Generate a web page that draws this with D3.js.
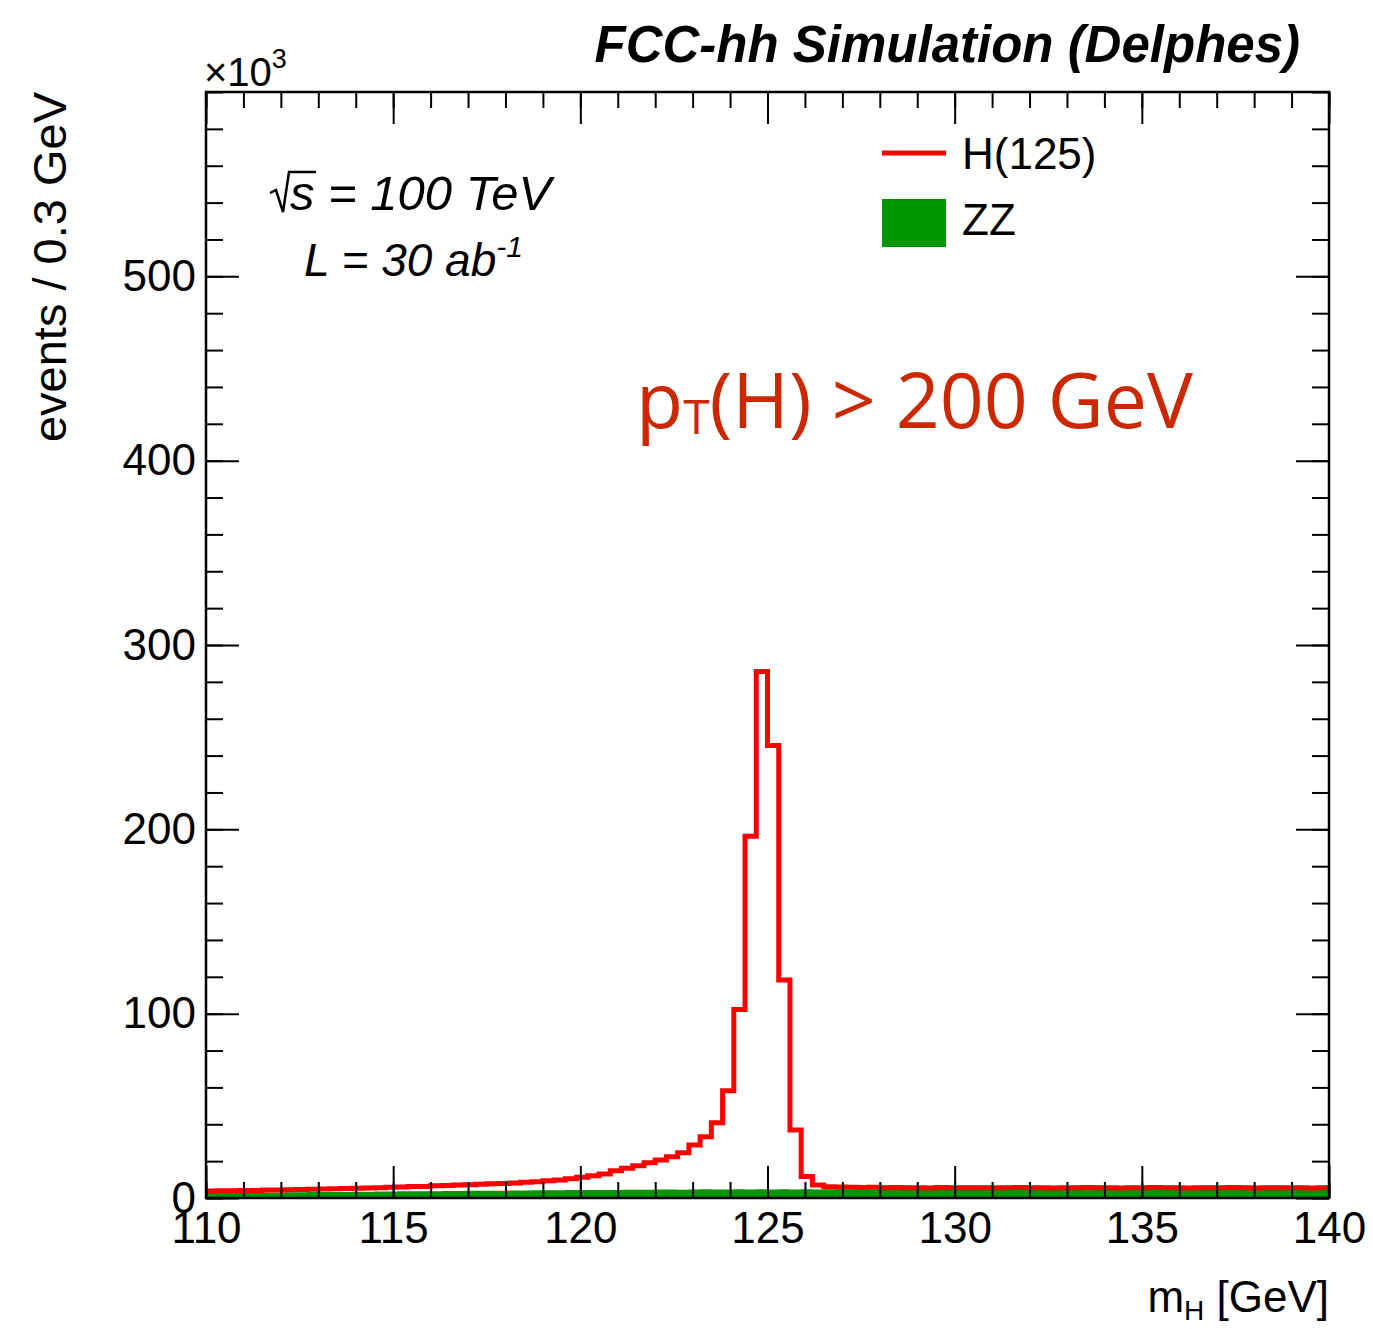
<!DOCTYPE html>
<html><head><meta charset="utf-8">
<script src="https://cdn.jsdelivr.net/npm/d3@7"></script>
<style>
body{margin:0;background:#fff;}
text{font-family:"Liberation Sans",Arial,Helvetica,sans-serif;}
</style></head>
<body><svg id="c" width="1373" height="1329"></svg>
<script>
// ---- data (values in units of 10^3 events / 0.3 GeV) ----
const binLow = 110, binWidth = 0.3, nBins = 100;
const higgs = [
 3.8,3.9,3.9,4.1,4.1,4.3,4.3,4.5,4.6,4.7,
 4.9,5.0,5.1,5.3,5.4,5.6,5.8,6.0,6.2,6.3,
 6.6,6.8,7.0,7.2,7.4,7.7,7.9,8.2,8.5,8.8,
 9.3,9.8,10.4,11.2,12.1,13.0,14.8,16.1,17.5,19.1,
 20.6,22.4,24.6,28.7,33.2,40.8,58.2,102.3,196.2,285.6,
 245.5,118.2,36.9,11.7,7.0,6.1,5.9,5.8,5.7,5.8,
 5.6,5.7,5.5,5.6,5.4,5.7,5.6,5.5,5.6,5.5,
 5.6,5.5,5.7,5.5,5.6,5.4,5.6,5.5,5.7,5.6,
 5.5,5.4,5.6,5.5,5.7,5.6,5.5,5.4,5.6,5.5,
 5.6,5.7,5.5,5.4,5.6,5.5,5.6,5.5,5.4,5.6];
const zz = [
 2.7,2.8,2.8,2.9,2.9,3.0,3.0,3.1,3.1,3.2,
 3.2,3.3,3.3,3.4,3.4,3.5,3.5,3.6,3.6,3.7,
 3.7,3.8,3.8,3.9,3.9,4.0,4.0,4.1,4.1,4.2,
 4.2,4.2,4.3,4.3,4.4,4.4,4.4,4.5,4.5,4.5,
 4.6,4.6,4.5,4.6,4.7,4.6,4.6,4.7,4.6,4.7,
 4.6,4.7,4.6,4.7,4.6,4.7,4.7,4.6,4.7,4.6,
 4.7,4.6,4.7,4.6,4.5,4.6,4.7,4.6,4.7,4.6,
 4.6,4.7,4.6,4.6,4.7,4.6,4.7,4.6,4.6,4.7,
 4.6,4.7,4.6,4.7,4.6,4.6,4.7,4.6,4.7,4.6,
 4.6,4.7,4.6,4.7,4.6,4.7,4.6,4.6,4.7,4.6];
const xMajorTicks = [110,115,120,125,130,135,140];
const yMajorTicks = [0,100,200,300,400,500];
const legendLabels = ["H(125)","ZZ"];

// ---- layout ----
const L=206, R=1329, T=92, B=1198;
const svg = d3.select("#c");
const x = d3.scaleLinear().domain([110,140]).range([L,R]);
const y = d3.scaleLinear().domain([0,600]).range([B,T]);

svg.append("clipPath").attr("id","clip").append("rect")
  .attr("x",L).attr("y",T).attr("width",R-L).attr("height",B-T);

function stepPts(vals){
  const pts=[];
  vals.forEach((v,i)=>{const lo=binLow+i*binWidth; pts.push([lo,v]); pts.push([lo+binWidth,v]);});
  return pts;
}
const g = svg.append("g").attr("clip-path","url(#clip)");
g.append("path").datum(stepPts(zz))
  .attr("d", d3.area().x(d=>x(d[0])).y0(y(0)).y1(d=>y(d[1])))
  .attr("fill","#009600");
g.append("path").datum(stepPts(higgs))
  .attr("d", d3.line().x(d=>x(d[0])).y(d=>y(d[1])))
  .attr("fill","none").attr("stroke","#ff0000").attr("stroke-width",5)
  .attr("stroke-linejoin","miter");

// ---- axes ----
const fs=44;
function styleAxis(sel){ sel.select(".domain").remove(); sel.selectAll("line").attr("stroke","#000").attr("stroke-width",2); sel.selectAll("text").attr("font-size",fs).attr("fill","#000").attr("font-family","Liberation Sans, Arial, sans-serif"); }
const xMinor = d3.range(110,140.01,1);
const yMinor = d3.range(0,600.01,20);
// bottom
svg.append("g").attr("transform",`translate(0,${B})`).call(d3.axisBottom(x).tickValues(xMinor).tickSizeInner(-16).tickSizeOuter(0).tickFormat("")).call(styleAxis);
svg.append("g").attr("transform",`translate(0,${B})`).call(d3.axisBottom(x).tickValues(xMajorTicks).tickSizeInner(-32).tickSizeOuter(0).tickPadding(14).tickFormat(d3.format("d"))).call(styleAxis);
// top
svg.append("g").attr("transform",`translate(0,${T})`).call(d3.axisTop(x).tickValues(xMinor).tickSizeInner(-16).tickSizeOuter(0).tickFormat("")).call(styleAxis);
svg.append("g").attr("transform",`translate(0,${T})`).call(d3.axisTop(x).tickValues(xMajorTicks).tickSizeInner(-32).tickSizeOuter(0).tickFormat("")).call(styleAxis);
// left
svg.append("g").attr("transform",`translate(${L},0)`).call(d3.axisLeft(y).tickValues(yMinor).tickSizeInner(-17).tickSizeOuter(0).tickFormat("")).call(styleAxis);
svg.append("g").attr("transform",`translate(${L},0)`).call(d3.axisLeft(y).tickValues(yMajorTicks).tickSizeInner(-33).tickSizeOuter(0).tickPadding(10).tickFormat(d3.format("d"))).call(styleAxis);
// right
svg.append("g").attr("transform",`translate(${R},0)`).call(d3.axisRight(y).tickValues(yMinor).tickSizeInner(-17).tickSizeOuter(0).tickFormat("")).call(styleAxis);
svg.append("g").attr("transform",`translate(${R},0)`).call(d3.axisRight(y).tickValues(yMajorTicks).tickSizeInner(-33).tickSizeOuter(0).tickFormat("")).call(styleAxis);

// frame
svg.append("rect").attr("x",L).attr("y",T).attr("width",R-L).attr("height",B-T)
  .attr("fill","none").attr("stroke","#000").attr("stroke-width",2.5);

// exponent label
const ex = svg.append("text").attr("x",204).attr("y",86).attr("font-size",40);
ex.append("tspan").text("×10");
ex.append("tspan").attr("font-size",27).attr("dy",-18).text("3");

// axis titles
svg.append("text").attr("transform",`translate(66,92) rotate(-90)`)
  .attr("text-anchor","end").attr("font-size",47).text("events / 0.3 GeV");
const xt = svg.append("text").attr("x",R).attr("y",1312).attr("text-anchor","end").attr("font-size",44);
xt.append("tspan").text("m");
xt.append("tspan").attr("font-size",28).attr("dy",8).text("H");
xt.append("tspan").attr("dy",-8).text(" [GeV]");

// title
svg.append("text").attr("x",1300).attr("y",62).attr("text-anchor","end")
  .attr("font-size",51).attr("font-weight","bold").attr("font-style","italic")
  .text("FCC-hh Simulation (Delphes)");

// sqrt(s)
const s1 = svg.append("text").attr("x",290).attr("y",210).attr("font-size",49).attr("font-style","italic");
s1.text("s = 100 TeV");
svg.append("path").attr("d","M270,193 L276,190 L283,212 L289,172 L316,172")
  .attr("fill","none").attr("stroke","#000").attr("stroke-width",2.5);
const s2 = svg.append("text").attr("x",304).attr("y",276).attr("font-size",46).attr("font-style","italic");
s2.append("tspan").text("L = 30 ab");
s2.append("tspan").attr("font-size",30).attr("dy",-19).text("-1");

// legend
svg.append("line").attr("x1",882).attr("x2",946).attr("y1",153).attr("y2",153)
  .attr("stroke","#ff0000").attr("stroke-width",5);
svg.append("text").attr("x",962).attr("y",169).attr("font-size",44).text(legendLabels[0]);
svg.append("rect").attr("x",882).attr("y",199).attr("width",64).attr("height",48).attr("fill","#009600");
svg.append("text").attr("x",962).attr("y",235).attr("font-size",44).text(legendLabels[1]);

// pT cut label
const pt = svg.append("text").attr("x",636).attr("y",428).attr("font-size",77)
  .attr("fill","#cc2800").style("font-family","'Open Sans','Lato',sans-serif");
pt.append("tspan").text("p");
pt.append("tspan").attr("font-size",48).attr("dy",6).text("T");
pt.append("tspan").attr("dy",-6).text("(H) > 200 GeV");
</script></body></html>
